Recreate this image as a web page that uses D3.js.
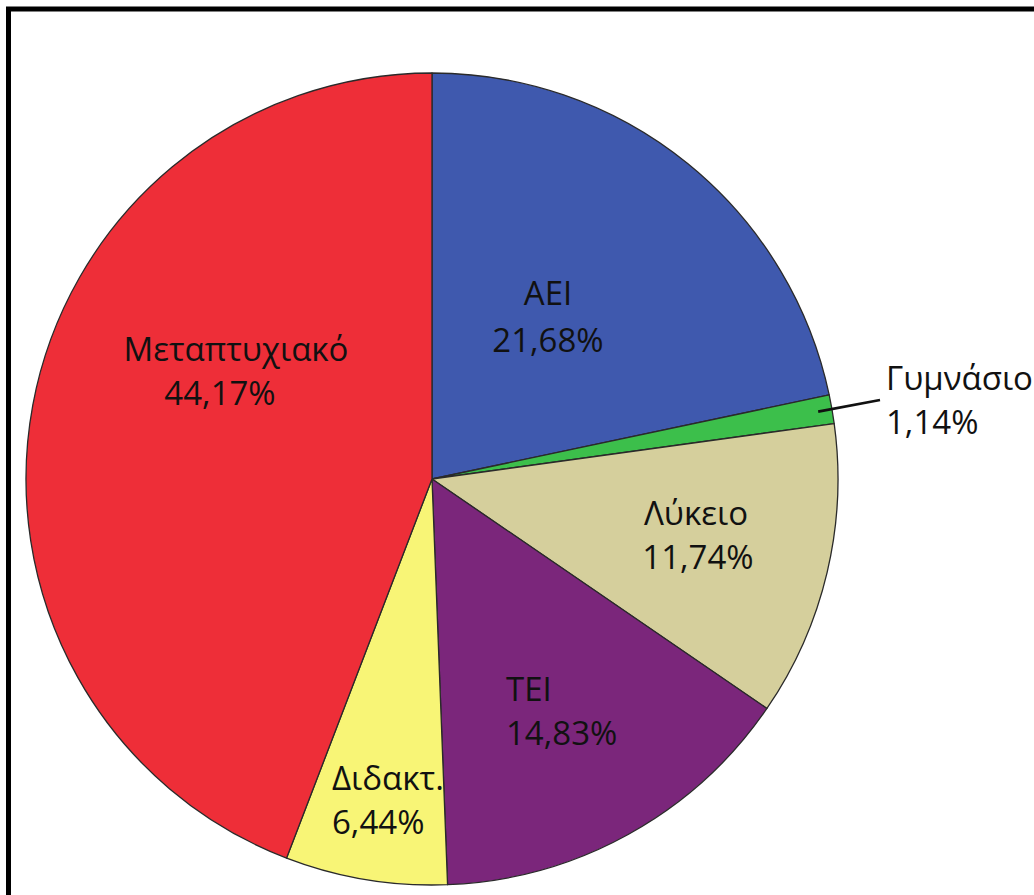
<!DOCTYPE html>
<html><head><meta charset="utf-8">
<script src="https://cdn.jsdelivr.net/npm/d3@7/dist/d3.min.js"></script>
<style>html,body{margin:0;padding:0;background:#fff;}svg{display:block;}</style>
</head><body>
<script>
const categories = ["ΑΕΙ", "Γυμνάσιο", "Λύκειο", "ΤΕΙ", "Διδακτ.", "Μεταπτυχιακό"];
const values = [21.68, 1.14, 11.74, 14.83, 6.44, 44.17];
const valueLabels = ["21,68%", "1,14%", "11,74%", "14,83%", "6,44%", "44,17%"];
const colors = ["#3F59AE", "#3CBF4B", "#D5CF9C", "#7B267B", "#F8F576", "#EE2E38"];

// label layout (offsets from pie centre), kept apart from data
const labelLayout = [
  {x: 116, y: -174, anchor: "middle", dx2: 0},
  {x: 454, y: -89, anchor: "start", dx2: 0},
  {x: 264, y: 46, anchor: "middle", dx2: 2},
  {x: 74, y: 222, anchor: "start", dx2: 0},
  {x: -100, y: 311, anchor: "start", dx2: 0},
  {x: -196, y: -118, anchor: "middle", dx2: -16}
];

const W = 1034, H = 895;
const cx = 432, cy = 479, R = 406;
const svg = d3.select("body").append("svg").attr("width", W).attr("height", H);
svg.append("rect").attr("width", W).attr("height", H).attr("fill", "#fff");

const g = svg.append("g").attr("transform", `translate(${cx},${cy})`);
const pie = d3.pie().sort(null).value(d => d);
const arcs = pie(values);
const arc = d3.arc().innerRadius(0).outerRadius(R);

g.selectAll("path.slice").data(arcs).join("path")
  .attr("class", "slice")
  .attr("d", arc)
  .attr("fill", (d, i) => colors[i])
  .attr("stroke", "#2a2a2a")
  .attr("stroke-width", 1.3)
  .attr("stroke-linejoin", "round");

// leader line for small slice
const gIdx = 1;
const mid = (arcs[gIdx].startAngle + arcs[gIdx].endAngle) / 2;
const p0 = [Math.sin(mid) * (R - 14), -Math.cos(mid) * (R - 14)];
g.append("line")
  .attr("x1", p0[0]).attr("y1", p0[1])
  .attr("x2", labelLayout[gIdx].x - 6).attr("y2", labelLayout[gIdx].y + 10)
  .attr("stroke", "#111").attr("stroke-width", 2.6);

const fs = 33, lh = 44;
const lbl = g.selectAll("g.lbl").data(arcs).join("g").attr("class", "lbl");
lbl.append("text")
  .attr("x", (d, i) => labelLayout[i].x)
  .attr("y", (d, i) => labelLayout[i].y)
  .attr("text-anchor", (d, i) => labelLayout[i].anchor)
  .attr("font-family", "'Open Sans', sans-serif")
  .attr("font-size", fs)
  .attr("fill", "#111")
  .text((d, i) => categories[i]);
lbl.append("text")
  .attr("x", (d, i) => labelLayout[i].x + labelLayout[i].dx2)
  .attr("y", (d, i) => labelLayout[i].y + lh + (i === 0 ? 3 : 0))
  .attr("text-anchor", (d, i) => labelLayout[i].anchor)
  .attr("font-family", "'Open Sans', sans-serif")
  .attr("font-size", fs)
  .attr("fill", "#111")
  .text((d, i) => valueLabels[i]);

// frame (top and left visible, right/bottom cut off)
svg.append("rect")
  .attr("x", 8.5).attr("y", 9)
  .attr("width", W + 50).attr("height", H + 50)
  .attr("fill", "none").attr("stroke", "#000").attr("stroke-width", 5);
</script>
</body></html>
